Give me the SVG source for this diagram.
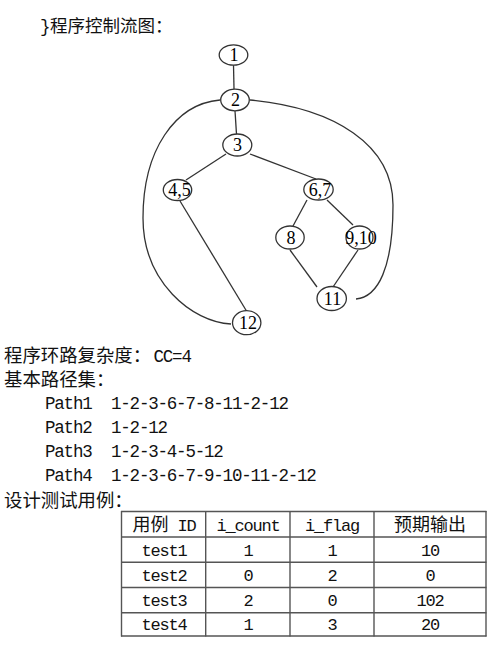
<svg xmlns="http://www.w3.org/2000/svg" width="500" height="645" viewBox="0 0 500 645">
<style>
.bg{fill:#fff}
.cjk{font-family:"Noto Sans CJK SC","Noto Sans CJK JP",sans-serif;font-size:18px;fill:#111}
.mono{font-family:"Liberation Mono","DejaVu Sans Mono",monospace;font-size:17.5px;letter-spacing:-1.2px;fill:#111}
.tmono{font-family:"Liberation Mono","DejaVu Sans Mono",monospace;font-size:17px;letter-spacing:-1.2px;fill:#111}
.node ellipse{fill:#fff;stroke:#333;stroke-width:1.3}
.node text{font-family:"Liberation Serif","Times New Roman",serif;font-size:18px;fill:#000;text-anchor:middle}
.edges path,.edges line{fill:none;stroke:#333;stroke-width:1.3}
.grid line{stroke:#555;stroke-width:1.4}
.cell{text-anchor:middle}
</style>
<rect class="bg" x="0" y="0" width="500" height="645"/>

<text x="40" y="32"><tspan class="mono">}</tspan><tspan class="cjk" x="50" style="font-size:17.5px">程序控制流图：</tspan></text>

<g class="edges" id="connectors">
  <line x1="233.5" y1="65" x2="234" y2="89"/>
  <line x1="235" y1="111" x2="236.5" y2="134"/>
  <line x1="226" y1="154" x2="186" y2="180"/>
  <line x1="250" y1="154" x2="316" y2="179"/>
  <line x1="307" y1="200" x2="293" y2="226"/>
  <line x1="327" y1="200" x2="353" y2="225"/>
  <line x1="290" y1="250" x2="317" y2="287"/>
  <line x1="358" y1="250" x2="333" y2="287"/>
  <line x1="180" y1="201" x2="246.5" y2="311"/>
  <path d="M220,100 C175,104 143,150 143,218 C143,282 192,322 231,324"/>
  <path d="M250,100 C335,108 393,145 393,205 C393,268 378,297 356,299"/>
</g>

<g class="node" id="n1"><ellipse cx="233.5" cy="55" rx="14.3" ry="10.2"/><text x="234" y="61">1</text></g>
<g class="node" id="n2"><ellipse cx="235" cy="100" rx="14.3" ry="10.8"/><text x="235.5" y="106">2</text></g>
<g class="node" id="n3"><ellipse cx="237.3" cy="145" rx="14.5" ry="11"/><text x="237.5" y="151">3</text></g>
<g class="node" id="n45"><ellipse cx="177.5" cy="190" rx="14.2" ry="10.5"/><text x="179.5" y="196">4,5</text></g>
<g class="node" id="n67"><ellipse cx="318.5" cy="189.5" rx="14.7" ry="10.5"/><text x="320" y="196">6,7</text></g>
<g class="node" id="n8"><ellipse cx="290" cy="237.5" rx="14.2" ry="11.5"/><text x="291" y="244">8</text></g>
<g class="node" id="n910"><ellipse cx="359.5" cy="237.5" rx="13.5" ry="11.5"/><text x="361" y="244">9,10</text></g>
<g class="node" id="n11"><ellipse cx="331.7" cy="298.5" rx="14.7" ry="12"/><text x="332.5" y="305">11</text></g>
<g class="node" id="n12"><ellipse cx="246.7" cy="322.7" rx="14.2" ry="12"/><text x="248" y="329">12</text></g>

<text class="cjk" x="4" y="361.5" style="font-size:18.4px">程序环路复杂度：</text><text class="mono" x="153.5" y="361.5">CC=4</text>
<text class="cjk" x="4" y="385.5" style="font-size:18.4px">基本路径集：</text>
<text class="mono" x="45" y="409">Path1</text><text class="mono" x="111" y="409">1-2-3-6-7-8-11-2-12</text>
<text class="mono" x="45" y="433">Path2</text><text class="mono" x="111" y="433">1-2-12</text>
<text class="mono" x="45" y="457">Path3</text><text class="mono" x="111" y="457">1-2-3-4-5-12</text>
<text class="mono" x="45" y="481">Path4</text><text class="mono" x="111" y="481">1-2-3-6-7-9-10-11-2-12</text>
<text class="cjk" x="4" y="507" style="font-size:18.4px">设计测试用例：</text>

<g id="table">
  <g class="grid">
    <line x1="121" y1="511.5" x2="486.5" y2="511.5"/>
    <line x1="121" y1="537" x2="486.5" y2="537"/>
    <line x1="121" y1="562.3" x2="486.5" y2="562.3"/>
    <line x1="121" y1="587.5" x2="486.5" y2="587.5"/>
    <line x1="121" y1="612.8" x2="486.5" y2="612.8"/>
    <line x1="121" y1="636" x2="486.5" y2="636"/>
    <line x1="121.5" y1="511" x2="121.5" y2="636.5"/>
    <line x1="205.7" y1="511" x2="205.7" y2="636.5"/>
    <line x1="290" y1="511" x2="290" y2="636.5"/>
    <line x1="374" y1="511" x2="374" y2="636.5"/>
    <line x1="486" y1="511" x2="486" y2="636.5"/>
  </g>
  <text class="cell" x="164" y="531"><tspan class="cjk">用例</tspan><tspan class="tmono"> ID</tspan></text>
  <text class="cell tmono" x="248" y="531">i_count</text>
  <text class="cell tmono" x="332" y="531">i_flag</text>
  <text class="cell cjk" x="430" y="531">预期输出</text>

  <text class="cell tmono" x="164" y="556">test1</text>
  <text class="cell tmono" x="248" y="556">1</text>
  <text class="cell tmono" x="332" y="556">1</text>
  <text class="cell tmono" x="430" y="556">10</text>

  <text class="cell tmono" x="164" y="581">test2</text>
  <text class="cell tmono" x="248" y="581">0</text>
  <text class="cell tmono" x="332" y="581">2</text>
  <text class="cell tmono" x="430" y="581">0</text>

  <text class="cell tmono" x="164" y="606">test3</text>
  <text class="cell tmono" x="248" y="606">2</text>
  <text class="cell tmono" x="332" y="606">0</text>
  <text class="cell tmono" x="430" y="606">102</text>

  <text class="cell tmono" x="164" y="630">test4</text>
  <text class="cell tmono" x="248" y="630">1</text>
  <text class="cell tmono" x="332" y="630">3</text>
  <text class="cell tmono" x="430" y="630">20</text>
</g>
</svg>
